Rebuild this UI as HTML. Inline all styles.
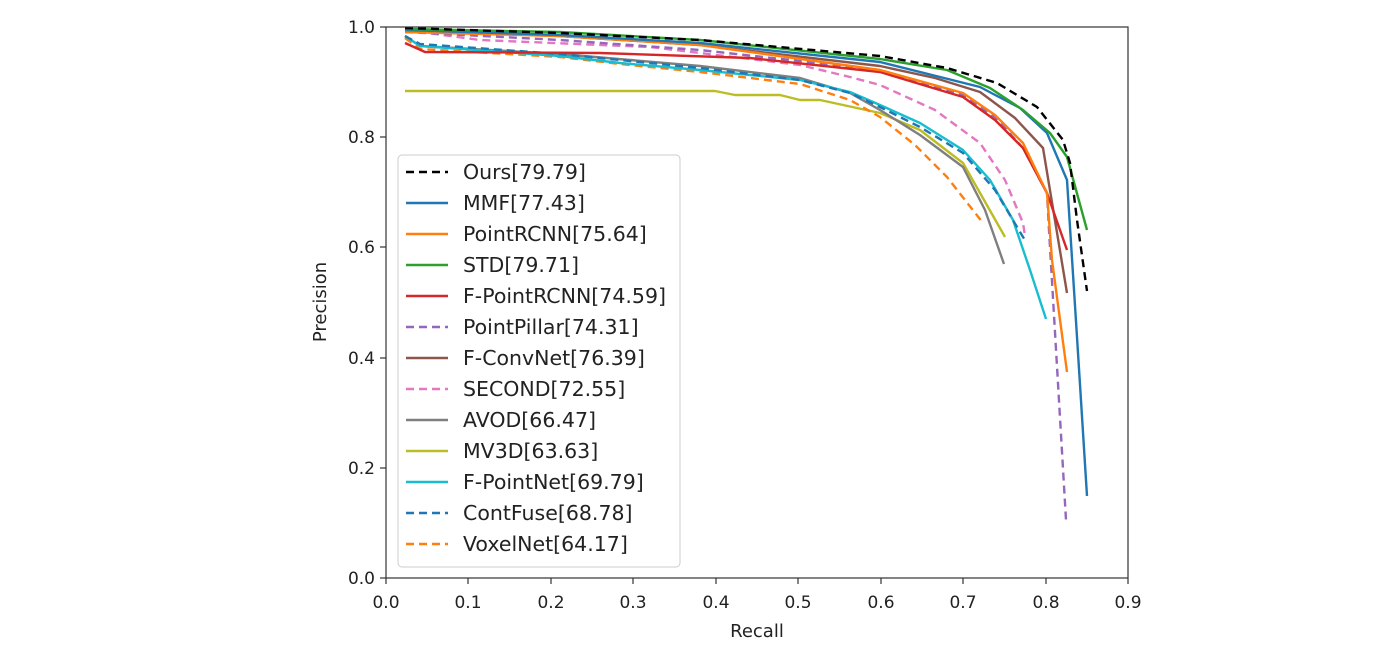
<!DOCTYPE html>
<html><head><meta charset="utf-8"><style>body{margin:0;background:#fff}svg{display:block}text{font-family:"DejaVu Sans","Liberation Sans",sans-serif;fill:#222}</style></head><body>
<svg width="1400" height="657" viewBox="0 0 1400 657" xmlns="http://www.w3.org/2000/svg">
<rect width="1400" height="657" fill="#fff"/>
<g fill="none" stroke-width="2.4" stroke-linejoin="round">
<polyline stroke="#bcbd22" points="405,91 715,91 735,95 780,95 800,100 820,100 880,113 920,130 963,163 1005,237"/>
<polyline stroke="#ff7f0e" stroke-dasharray="8,5" points="405,38 420,49 560,57 620,64 700,72 800,84 850,100 880,117 915,145 947,177 983,223"/>
<polyline stroke="#7f7f7f" points="405,36 420,46 560,54 700,66 800,78 850,93 880,110 920,135 963,167 985,210 1004,264"/>
<polyline stroke="#17becf" points="405,36 420,46 560,56 620,63 700,70 800,80 850,92 880,105 920,123 963,150 990,180 1013,220 1030,270 1046,319"/>
<polyline stroke="#1f77b4" stroke-dasharray="8,5" points="405,36 420,44 560,54 700,68 800,80 850,93 880,107 920,127 963,153 995,190 1023,237 1025,240"/>
<polyline stroke="#e377c2" stroke-dasharray="8,5" points="405,30 480,40 650,47 800,65 850,77 880,85 935,110 980,143 1005,180 1023,223 1025,236"/>
<polyline stroke="#8c564b" points="405,30 560,36 700,45 880,66 935,78 980,92 1015,118 1043,148 1067,293"/>
<polyline stroke="#9467bd" stroke-dasharray="8,5" points="405,32 560,40 700,50 880,70 963,95 995,117 1023,148 1047,193 1049,230 1066,520"/>
<polyline stroke="#d62728" points="405,43 425,52 600,53 750,58 880,72 963,97 995,120 1023,148 1047,193 1067,250"/>
<polyline stroke="#ff7f0e" points="405,32 560,36 700,45 880,70 963,93 995,115 1023,143 1047,193 1052,260 1067,372"/>
<polyline stroke="#1f77b4" points="405,30 560,35 700,43 880,62 980,87 1020,108 1047,133 1067,180 1077,337 1087,496"/>
<polyline stroke="#2ca02c" points="405,29 560,32 700,40 880,59 947,70 990,88 1023,110 1050,133 1067,157 1087,230"/>
<polyline stroke="#000" stroke-dasharray="8,5" points="405,28 560,33 700,40 880,56 947,68 997,83 1037,107 1063,140 1070,163 1077,220 1087,291"/>
</g>
<rect x="386" y="27" width="742" height="551" fill="none" stroke="#333" stroke-width="1.2"/>
<g stroke="#333" stroke-width="1.2">
<line x1="380" y1="27" x2="386" y2="27"/><line x1="380" y1="137" x2="386" y2="137"/><line x1="380" y1="247" x2="386" y2="247"/><line x1="380" y1="358" x2="386" y2="358"/><line x1="380" y1="468" x2="386" y2="468"/><line x1="380" y1="578" x2="386" y2="578"/>
<line x1="386" y1="578" x2="386" y2="584"/><line x1="468" y1="578" x2="468" y2="584"/><line x1="551" y1="578" x2="551" y2="584"/><line x1="633" y1="578" x2="633" y2="584"/><line x1="716" y1="578" x2="716" y2="584"/><line x1="798" y1="578" x2="798" y2="584"/><line x1="881" y1="578" x2="881" y2="584"/><line x1="963" y1="578" x2="963" y2="584"/><line x1="1046" y1="578" x2="1046" y2="584"/><line x1="1128" y1="578" x2="1128" y2="584"/>
</g>
<g font-size="17" text-anchor="end">
<text x="375" y="33">1.0</text><text x="375" y="143">0.8</text><text x="375" y="253">0.6</text><text x="375" y="364">0.4</text><text x="375" y="474">0.2</text><text x="375" y="584">0.0</text>
</g>
<g font-size="17" text-anchor="middle">
<text x="386" y="608">0.0</text><text x="468" y="608">0.1</text><text x="551" y="608">0.2</text><text x="633" y="608">0.3</text><text x="716" y="608">0.4</text><text x="798" y="608">0.5</text><text x="881" y="608">0.6</text><text x="963" y="608">0.7</text><text x="1046" y="608">0.8</text><text x="1128" y="608">0.9</text>
<text x="757" y="637" font-size="18">Recall</text>
<text transform="translate(326,302) rotate(-90)" font-size="18">Precision</text>
</g>
<rect x="398" y="155" width="282" height="412" rx="4" fill="#fff" fill-opacity="0.85" stroke="#ccc" stroke-width="1"/>
<g stroke-width="2.4" fill="none">
<line x1="406" y1="172" x2="448" y2="172" stroke="#000" stroke-dasharray="8,5"/>
<line x1="406" y1="203" x2="448" y2="203" stroke="#1f77b4"/>
<line x1="406" y1="234" x2="448" y2="234" stroke="#ff7f0e"/>
<line x1="406" y1="265" x2="448" y2="265" stroke="#2ca02c"/>
<line x1="406" y1="296" x2="448" y2="296" stroke="#d62728"/>
<line x1="406" y1="327" x2="448" y2="327" stroke="#9467bd" stroke-dasharray="8,5"/>
<line x1="406" y1="358" x2="448" y2="358" stroke="#8c564b"/>
<line x1="406" y1="389" x2="448" y2="389" stroke="#e377c2" stroke-dasharray="8,5"/>
<line x1="406" y1="420" x2="448" y2="420" stroke="#7f7f7f"/>
<line x1="406" y1="451" x2="448" y2="451" stroke="#bcbd22"/>
<line x1="406" y1="482" x2="448" y2="482" stroke="#17becf"/>
<line x1="406" y1="513" x2="448" y2="513" stroke="#1f77b4" stroke-dasharray="8,5"/>
<line x1="406" y1="544" x2="448" y2="544" stroke="#ff7f0e" stroke-dasharray="8,5"/>
</g>
<g font-size="20.5">
<text x="463" y="179">Ours[79.79]</text>
<text x="463" y="210">MMF[77.43]</text>
<text x="463" y="241">PointRCNN[75.64]</text>
<text x="463" y="272">STD[79.71]</text>
<text x="463" y="303">F-PointRCNN[74.59]</text>
<text x="463" y="334">PointPillar[74.31]</text>
<text x="463" y="365">F-ConvNet[76.39]</text>
<text x="463" y="396">SECOND[72.55]</text>
<text x="463" y="427">AVOD[66.47]</text>
<text x="463" y="458">MV3D[63.63]</text>
<text x="463" y="489">F-PointNet[69.79]</text>
<text x="463" y="520">ContFuse[68.78]</text>
<text x="463" y="551">VoxelNet[64.17]</text>
</g>
</svg>
</body></html>
